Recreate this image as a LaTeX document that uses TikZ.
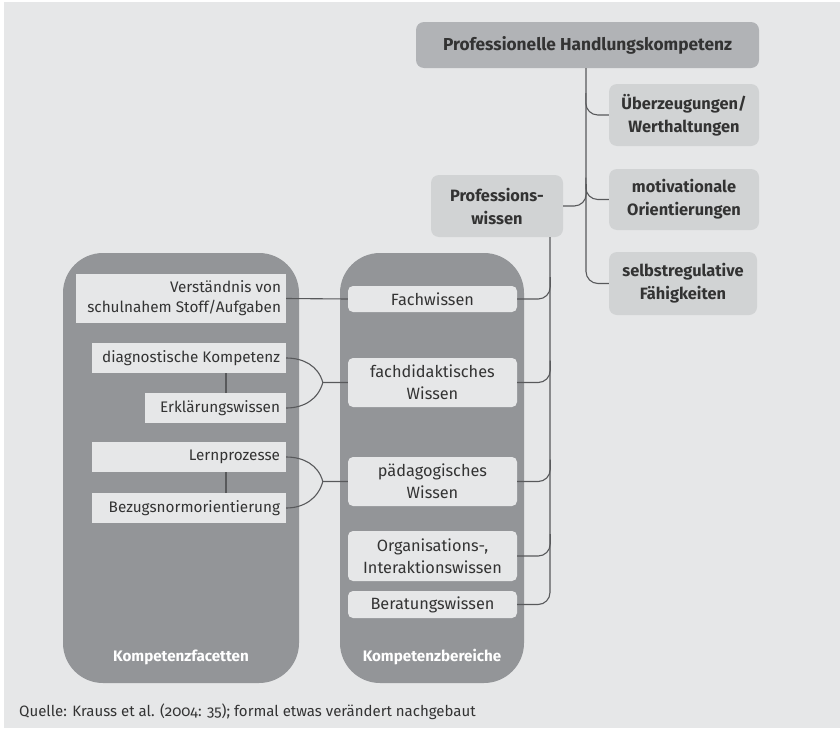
\documentclass[tikz,border=0pt]{standalone}
\usepackage{fontspec}
\setmainfont{Fira Sans}[Numbers=OldStyle]
\usetikzlibrary{calc}
\definecolor{bg}{HTML}{E6E7E8}
\definecolor{topc}{HTML}{B1B3B6}
\definecolor{lightc}{HTML}{D1D3D4}
\definecolor{bigc}{HTML}{939598}
\definecolor{inc}{HTML}{E6E7E8}
\definecolor{txt}{HTML}{333333}
\definecolor{linec}{HTML}{58595B}
\tikzset{
  basebox/.style={inner sep=0pt, align=center, text=txt},
  topbox/.style={basebox, fill=topc, rounded corners=8pt, font=\fontsize{17.3}{23}\selectfont\bfseries},
  lightbox/.style={basebox, fill=lightc, rounded corners=8pt, font=\fontsize{16.4}{23}\selectfont\bfseries},
  bigbox/.style={fill=bigc, rounded corners=40pt, inner sep=0pt},
  inbox/.style={basebox, fill=inc, rounded corners=5pt, font=\fontsize{16.3}{22}\selectfont},
  facbox/.style={basebox, fill=inc, align=right, font=\fontsize{15.3}{20}\selectfont},
  biglabel/.style={text=white, font=\fontsize{15.2}{16}\selectfont\bfseries},
  conn/.style={draw=linec, line width=1.1pt},
}
\begin{document}
\begin{tikzpicture}[x=1pt,y=-1pt]
\fill[white] (0,0) rectangle (840,728);
\fill[bg] (4,2) rectangle (840,728);
\useasboundingbox (0,0) rectangle (840,728);

% top tree
\node[topbox, minimum width=343, minimum height=46] (phk) at (587.5,45) {Professionelle Handlungskompetenz};
\node[lightbox, minimum width=150, minimum height=62] (ue) at (684,115) {Überzeugungen/\\Werthaltungen};
\node[lightbox, minimum width=150, minimum height=61] (mo) at (684,199.5) {motivationale\\Orientierungen};
\node[lightbox, minimum width=148, minimum height=63] (sr) at (683,283.5) {selbstregulative\\Fähigkeiten};
\node[lightbox, minimum width=132, minimum height=62] (pw) at (497,206) {Professions-\\wissen};

% big containers
\node[bigbox, minimum width=236, minimum height=430] (kf) at (181,468) {};
\node[bigbox, minimum width=184, minimum height=430] (kb) at (432,468) {};
\node[biglabel] (kfl) at (181,657) {Kompetenzfacetten};
\node[biglabel] (kbl) at (432,657) {Kompetenzbereiche};

% Kompetenzbereiche
\node[inbox, minimum width=169, minimum height=26] (fw) at (432.5,299) {Fachwissen};
\node[inbox, minimum width=169, minimum height=49] (fd) at (432.5,382.5) {fachdidaktisches\\Wissen};
\node[inbox, minimum width=169, minimum height=49] (pd) at (432.5,481.5) {pädagogisches\\Wissen};
\node[inbox, minimum width=169, minimum height=50] (oi) at (432.5,556) {Organisations-,\\Interaktionswissen};
\node[inbox, minimum width=169, minimum height=27] (bw) at (432.5,604.5) {Beratungswissen};

% Kompetenzfacetten
\node[facbox, minimum width=210, minimum height=49] (vs) at (181,298.5) {\makebox[200pt][r]{\parbox{200pt}{\raggedleft Verständnis von\\schulnahem Stoff/Aufgaben}}};
\node[facbox, minimum width=194, minimum height=30] (dk) at (189,358) {\makebox[182pt][r]{diagnostische Kompetenz}};
\node[facbox, minimum width=141, minimum height=30] (ew) at (215.5,408) {\makebox[129pt][r]{Erklärungswissen}};
\node[facbox, minimum width=194, minimum height=30] (lp) at (189,457) {\makebox[182pt][r]{Lernprozesse}};
\node[facbox, minimum width=194, minimum height=30] (bn) at (189,508) {\makebox[182pt][r]{Bezugsnormorientierung}};

% caption
\node[anchor=west, inner sep=0pt, text=txt, font=\fontsize{15}{16}\selectfont] (src) at (19,712) {Quelle: Krauss et al. (2004: 35); formal etwas verändert nachgebaut};

% connectors top tree
\draw[conn, rounded corners=12pt] ($(phk.south)+(-1.5,0)$) |- (sr.west);
\draw[conn, rounded corners=12pt] (ue.west) -| ++(-23,-22);
\draw[conn, rounded corners=12pt] (mo.west) -| ++(-23,-22);
\draw[conn, rounded corners=12pt] (pw.east) -| ++(23,-22);

% connectors Professionswissen
\draw[conn, rounded corners=12pt] ($(pw.south)+(53,0)$) |- (bw.east);
\draw[conn, rounded corners=12pt] (fw.east) -| ++(33,-22);
\draw[conn, rounded corners=12pt] (fd.east) -| ++(33,-22);
\draw[conn, rounded corners=12pt] (pd.east) -| ++(33,-22);
\draw[conn, rounded corners=12pt] (oi.east) -| ++(33,-22);

% facets
\draw[conn] (vs.east) -- (fw.west);
\coordinate (j1) at ($(fd.west)+(-25,0)$);
\coordinate (j2) at ($(pd.west)+(-25,0)$);
\draw[conn] (dk.east) to[out=0,in=105] (j1) -- (fd.west);
\draw[conn] (ew.east) to[out=0,in=-105] (j1);
\draw[conn] (lp.east) to[out=0,in=105] (j2) -- (pd.west);
\draw[conn] (bn.east) to[out=0,in=-105] (j2);
\draw[conn] ($(dk.south)+(37,0)$) -- ($(ew.north)+(10.5,0)$);
\draw[conn] ($(lp.south)+(37,0)$) -- ($(bn.north)+(37,0)$);
\end{tikzpicture}
\end{document}
